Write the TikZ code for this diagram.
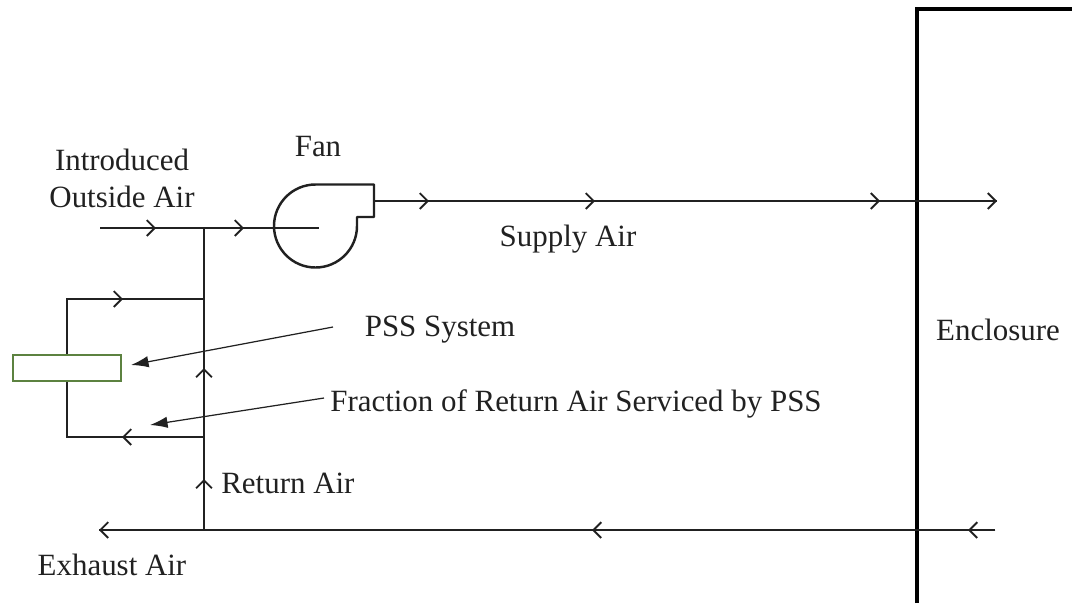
\documentclass[tikz,border=0pt]{standalone}
\usepackage{fontspec}
\setmainfont{Liberation Serif}
\usepackage{xcolor}
\usetikzlibrary{arrows.meta,calc,positioning}
\definecolor{pssgreen}{rgb}{0.36,0.51,0.25}
\definecolor{inkgray}{rgb}{0.13,0.13,0.13}
\tikzset{
  duct/.style={line width=1.1pt,draw=inkgray},
  flow/.style={duct,-{Straight Barb[length=4.5pt,width=9pt,line width=1.1pt]}},
  leader/.style={line width=0.7pt,draw=inkgray,-{Latex[length=10pt,width=6.5pt]}},
  label/.style={font=\fontsize{17.6pt}{21pt}\selectfont,text=inkgray,inner sep=0pt,align=center}
}
\begin{document}
\begin{tikzpicture}[x=0.02cm,y=-0.02cm]
        \useasboundingbox (0,0) rectangle (1072,603);
        % Define coordinates
        \coordinate (inlet) at (100,228);
        \coordinate (tee) at (204,228);
        \coordinate (hub) at (319,228);
        \coordinate (fanout) at (374,201);
        \coordinate (supplyend) at (997,201);
        \coordinate (returnstart) at (995,530);
        \coordinate (returntee) at (204,530);
        \coordinate (exhaust) at (99,530);
        \coordinate (bypasstop) at (204,299);
        \coordinate (bypassbot) at (204,437);
        \coordinate (topleft) at (67,299);
        \coordinate (botleft) at (67,437);
        % Enclosure walls
        \draw[line width=1.8pt,draw=black] (917,603) -- (917,9) -- (1072,9);
        % Fan
        \draw[line width=1.4pt,draw=inkgray,line join=round] (357,226) arc[start angle=0,end angle=270,radius=41.5]
          -- (374,184.5) -- (374,217) -- (357,217) -- cycle;
        % PSS box
        \node[draw=pssgreen,fill=white,line width=1.4pt,minimum width=2.2cm-1.4pt,minimum height=0.56cm-1.4pt,inner sep=0pt] (pss) at (67,368) {};
        % Draw the ducts
        \draw[duct] (inlet) -- (hub);
        \draw[duct] (fanout) -- (supplyend);
        \draw[duct] (returnstart) -- (exhaust);
        \draw[duct] (returntee) -- (tee);
        \draw[duct] (bypasstop) -- (topleft) -- (pss.north);
        \draw[duct] (bypassbot) -- (botleft) -- (pss.south);
        % Flow directions
        \draw[flow] (inlet) -- ++(56,0);
        \draw[flow] (tee) -- ++(40,0);
        \draw[flow] (topleft) -- ++(56,0);
        \draw[flow] (bypassbot) -- ++(-82,0);
        \draw[flow] (fanout) -- ++(55,0);
        \draw[flow] (fanout) -- ++(221,0);
        \draw[flow] (fanout) -- ++(506,0);
        \draw[flow] (fanout) -- (supplyend);
        \draw[flow] (returnstart) -- ++(-27,0);
        \draw[flow] (returnstart) -- ++(-403,0);
        \draw[flow] (returnstart) -- (exhaust);
        \draw[flow] (returntee) -- ++(0,-51);
        \draw[flow] (returntee) -- ++(0,-162);
        % Labels
        \node[label] (outside) at (122,178.5) {Introduced\\Outside Air};
        \node[label,anchor=base] (fan) at (318,156) {Fan};
        \node[label,anchor=base] (supply) at (568,246.5) {Supply Air};
        \node[label,anchor=base] (psslabel) at (440,336.5) {PSS System};
        \node[label,anchor=base west] (fraction) at (330,411) {Fraction of Return Air Serviced by PSS};
        \node[label,anchor=base west] (return) at (221,493) {Return Air};
        \node[label,anchor=base] (exhaustlabel) at (112,575.5) {Exhaust Air};
        \node[label,anchor=base] (enclosure) at (998,340) {Enclosure};
        % Leaders
        \coordinate (pssstart) at (333,327);
        \coordinate (pssend) at (131,365);
        \coordinate (fracstart) at (324,398);
        \coordinate (fracend) at (150,425);
        \draw[leader] (pssstart) -- (pssend);
        \draw[leader] (fracstart) -- (fracend);
      \end{tikzpicture}
\end{document}
